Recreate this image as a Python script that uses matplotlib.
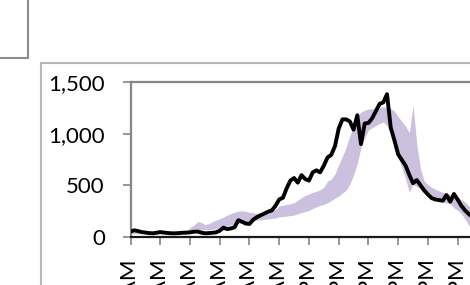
# daily profile: observed counts (black) against the usual min-max range (purple band)

import numpy as np
import matplotlib
matplotlib.use("Agg")
import matplotlib.pyplot as plt
from matplotlib.patches import Rectangle

plt.rcParams['font.family'] = ['Lato', 'DejaVu Sans']

# quarter-hour steps, 00:00 to 23:00
hours = np.arange(0, 23.01, 0.25)

observed = [50, 62, 55, 45, 40, 35, 33, 38, 45, 40, 36, 33,
            33, 35, 38, 40, 42, 48, 50, 40, 33, 35, 38, 42,
            58, 88, 74, 80, 92, 160, 145, 128, 124, 165, 190, 208,
            225, 243, 255, 300, 362, 378, 470, 545, 570, 525, 598, 560,
            545, 625, 645, 625, 690, 770, 795, 880, 1050, 1140, 1140, 1120,
            1040, 1180, 900, 1100, 1105, 1150, 1220, 1290, 1305, 1385, 1060, 935,
            800, 745, 690, 600, 520, 550, 500, 450, 410, 375, 362, 355,
            350, 405, 340, 415, 360, 300, 255, 220, 190]

band_low = [30, 30, 30, 30, 30, 30, 30, 30, 30, 30, 30, 30,
            30, 30, 30, 25, 35, 45, 55, 65, 68, 70, 72, 78,
            85, 95, 105, 115, 122, 130, 138, 145, 150, 155, 160, 165,
            170, 173, 177, 182, 193, 196, 200, 205, 210, 222, 235, 245,
            255, 275, 290, 305, 315, 330, 350, 375, 395, 425, 450, 510,
            600, 710, 870, 960, 1036, 1060, 1080, 1100, 1115, 1080, 990, 870,
            770, 670, 560, 430, 510, 486, 460, 425, 395, 370, 355, 343,
            335, 328, 322, 280, 255, 225, 170, 110, 80]

band_high = [45, 45, 45, 45, 45, 45, 45, 45, 45, 45, 45, 45,
             40, 40, 40, 45, 90, 110, 145, 140, 118, 125, 145, 160,
             175, 190, 210, 225, 238, 248, 252, 245, 238, 232, 228, 235,
             242, 248, 255, 265, 300, 305, 312, 320, 330, 355, 380, 400,
             415, 430, 440, 455, 480, 540, 560, 610, 700, 780, 870, 980,
             1075, 1170, 1210, 1230, 1240, 1245, 1250, 1255, 1262, 1255, 1245, 1220,
             1165, 1120, 1075, 1010, 1279, 900, 660, 540, 505, 480, 460, 445,
             430, 420, 410, 398, 385, 360, 335, 300, 270]

tick_hours = list(range(0, 25, 2))
tick_labels = ['12:00 AM', '2:00 AM', '4:00 AM', '6:00 AM', '8:00 AM', '10:00 AM',
               '12:00 PM', '2:00 PM', '4:00 PM', '6:00 PM', '8:00 PM', '10:00 PM',
               '12:00 AM']

W, H = 470, 285
fig = plt.figure(figsize=(W / 100, H / 100), dpi=100)

# bits of the surrounding dashboard frames
fig.patches.append(Rectangle((-0.05, 0.7954), 0.1106, 0.3, transform=fig.transFigure,
                             fill=False, edgecolor='#8c8c8c', linewidth=1.5))
fig.patches.append(Rectangle((0.0866, -0.05), 1.0, 0.8279, transform=fig.transFigure,
                             fill=False, edgecolor='#b8b8b8', linewidth=1.5))

# plot area runs past the right and bottom edges of the picture
left, right = 130.5 / W, 487.4 / W
top, bottom = (H - 82.3) / H, (H - 236.7) / H
ax = fig.add_axes([left, bottom, right - left, top - bottom])

ax.fill_between(hours, band_low, band_high, color='#cbc1de', linewidth=0, zorder=1)
ax.plot(hours, observed, color='black', linewidth=2.8, solid_joinstyle='round', zorder=3)

ax.set_xlim(0, 24)
ax.set_ylim(0, 1500)
ax.set_yticks([0, 500, 1000, 1500])
ax.set_yticklabels(['0', '500', '1,000', '1,500'])
ax.set_xticks(tick_hours)
ax.set_xticklabels(tick_labels, rotation=90)

for side in ['top', 'left', 'right']:
    ax.spines[side].set_color('#868686')
    ax.spines[side].set_linewidth(1.6)
ax.spines['bottom'].set_color('#1a1a1a')
ax.spines['bottom'].set_linewidth(1.6)

ax.tick_params(axis='y', length=5.5, width=1.2, color='#868686', pad=13,
               labelsize=16, labelcolor='black')
ax.tick_params(axis='x', length=6, width=1.2, color='#868686', pad=10.5,
               labelsize=16, labelcolor='black')

fig.savefig("out.png", dpi=100)
plt.close(fig)
